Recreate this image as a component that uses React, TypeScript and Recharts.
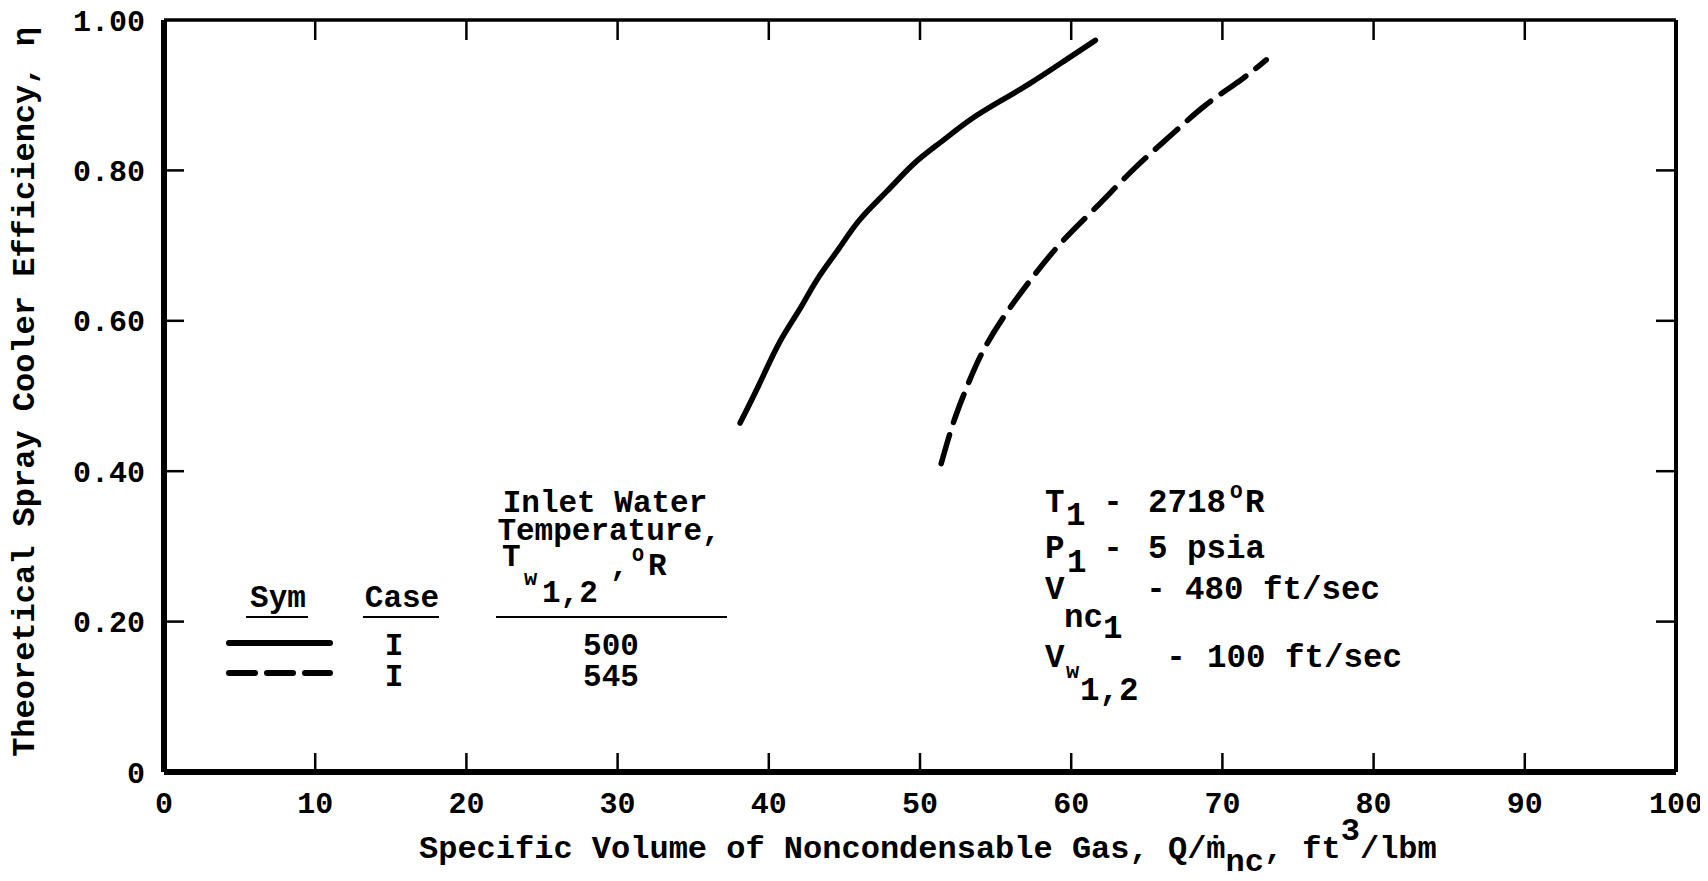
import React from "react";
import { LineChart, Line, XAxis, YAxis, Customized } from "recharts";

// ---- data ----
const xTicks = [0, 10, 20, 30, 40, 50, 60, 70, 80, 90, 100];
const xInnerTicks = [10, 20, 30, 40, 50, 60, 70, 80, 90];
const yTicks = [0, 0.2, 0.4, 0.6, 0.8, 1.0];
const yInnerTicks = [0.2, 0.4, 0.6, 0.8];

// Case I, inlet water temperature 500 °R (solid)
const case500X = [38.1, 39.4, 40.7, 42.0, 43.2, 44.6, 46.0, 47.8, 49.6, 51.4, 53.3, 55.3, 57.3, 59.5, 61.6];
const case500Y = [0.464, 0.517, 0.571, 0.614, 0.655, 0.695, 0.734, 0.772, 0.809, 0.838, 0.867, 0.892, 0.916, 0.945, 0.973];

// Case I, inlet water temperature 545 °R (dashed)
const case545X = [51.4, 52.2, 53.1, 54.2, 55.7, 57.3, 59.3, 61.7, 64.1, 66.5, 68.9, 71.2, 72.9];
const case545Y = [0.410, 0.464, 0.512, 0.561, 0.610, 0.654, 0.703, 0.752, 0.801, 0.845, 0.887, 0.920, 0.947];

const legendCase = ["I", "I"];
const legendTemp = ["500", "545"];

const solidData = case500X.map((x, i) => ({ x, y: case500Y[i] }));
const dashedData = case545X.map((x, i) => ({ x, y: case545Y[i] }));

const FONT = "'Liberation Mono', 'Courier New', monospace";
const DASH = "30 13";

const txt = (size: number) => ({
  fontFamily: FONT,
  fontWeight: 700,
  fontSize: size,
  fill: "#000",
});

const C = 32.5; // conditions font size

const Annotations = () => (
  <g transform="translate(-8,-8)">
    {/* axis titles */}
    <text transform="translate(34,392) rotate(-90)" textAnchor="middle" {...txt(32)}>
      Theoretical Spray Cooler Efficiency, η
    </text>
    <text x={419} y={858} {...txt(32)}>
      Specific Volume of Noncondensable Gas, Q/ṁ
      <tspan dy={13}>nc</tspan>
      <tspan dy={-13}>, ft</tspan>
      <tspan dy={-18}>3</tspan>
      <tspan dy={18}>/lbm</tspan>
    </text>

    {/* legend table */}
    <text x={605} y={512} textAnchor="middle" {...txt(31)}>Inlet Water</text>
    <text x={609} y={540} textAnchor="middle" {...txt(31)}>Temperature,</text>
    <text x={502} y={566} {...txt(31)}>T</text>
    <text x={524} y={585} {...txt(22)}>w</text>
    <text x={542} y={602} {...txt(31)}>1,2</text>
    <text x={610} y={575} {...txt(31)}>,</text>
    <text x={632} y={561} {...txt(20)}>O</text>
    <text x={648} y={575} {...txt(31)}>R</text>

    <text x={278} y={607} textAnchor="middle" {...txt(31)}>Sym</text>
    <text x={402} y={607} textAnchor="middle" {...txt(31)}>Case</text>
    <line x1={246} x2={308} y1={617} y2={617} stroke="#000" strokeWidth={2} />
    <line x1={363} x2={439} y1={617} y2={617} stroke="#000" strokeWidth={2} />
    <line x1={496} x2={727} y1={617} y2={617} stroke="#000" strokeWidth={2} />

    <line x1={229} x2={330} y1={643} y2={643} stroke="#000" strokeWidth={6} strokeLinecap="round" />
    <line x1={229} x2={330} y1={673} y2={673} stroke="#000" strokeWidth={6} strokeLinecap="round" strokeDasharray="26 12" />
    {legendCase.map((c, i) => (
      <text key={"c" + i} x={394} y={655 + i * 31} textAnchor="middle" {...txt(31)}>{c}</text>
    ))}
    {legendTemp.map((t, i) => (
      <text key={"t" + i} x={611} y={655 + i * 31} textAnchor="middle" {...txt(31)}>{t}</text>
    ))}

    {/* conditions block */}
    <text x={1045} y={512} {...txt(C)}>T</text>
    <text x={1066} y={525} {...txt(C)}>1</text>
    <text x={1113} y={512} textAnchor="middle" {...txt(C)}>-</text>
    <text x={1148} y={512} {...txt(C)}>2718</text>
    <text x={1230} y={498} {...txt(21)}>O</text>
    <text x={1245} y={512} {...txt(C)}>R</text>

    <text x={1045} y={558} {...txt(C)}>P</text>
    <text x={1067} y={572} {...txt(C)}>1</text>
    <text x={1113} y={558} textAnchor="middle" {...txt(C)}>-</text>
    <text x={1148} y={558} {...txt(C)}>5 psia</text>

    <text x={1045} y={599} {...txt(C)}>V</text>
    <text x={1064} y={627} {...txt(C)}>nc</text>
    <text x={1103} y={638} {...txt(C)}>1</text>
    <text x={1156} y={599} textAnchor="middle" {...txt(C)}>-</text>
    <text x={1185} y={599} {...txt(C)}>480 ft/sec</text>

    <text x={1045} y={667} {...txt(C)}>V</text>
    <text x={1066} y={678} {...txt(22)}>w</text>
    <text x={1080} y={700} {...txt(C)}>1,2</text>
    <text x={1176} y={667} textAnchor="middle" {...txt(C)}>-</text>
    <text x={1207} y={667} {...txt(C)}>100 ft/sec</text>
  </g>
);

const axisCommonX = {
  type: "number" as const,
  dataKey: "x",
  domain: [0, 100],
  allowDataOverflow: true,
};
const axisCommonY = {
  type: "number" as const,
  domain: [0, 1],
  allowDataOverflow: true,
};
const tickStroke = { stroke: "#000", strokeWidth: 2.5 };
const noLabel = () => "";
const hiddenTick = { fill: "none", fontSize: 1 };

export default function App() {
  return (
    <div style={{ width: 1700, height: 873, background: "#fff" }}>
      <LineChart
        width={1700}
        height={873}
        margin={{ top: 12, right: 32, bottom: 59, left: 76 }}
      >
        {/* inward tick marks + frame (mirror axes) */}
        <XAxis
          {...axisCommonX}
          xAxisId="bt"
          orientation="bottom"
          mirror
          height={1}
          ticks={xInnerTicks}
          interval={0}
          tick={hiddenTick}
          tickFormatter={noLabel}
          tickSize={19}
          tickLine={tickStroke}
          axisLine={{ stroke: "#000", strokeWidth: 6 }}
        />
        <XAxis
          {...axisCommonX}
          xAxisId="b"
          orientation="bottom"
          height={50}
          ticks={xTicks}
          interval={0}
          tickLine={false}
          axisLine={false}
          tickSize={0}
          tickMargin={20}
          tick={{ fill: "#000", fontSize: 30, fontFamily: FONT, fontWeight: 700 }}
        />
        <XAxis
          {...axisCommonX}
          xAxisId="t"
          orientation="top"
          mirror
          height={1}
          ticks={xInnerTicks}
          interval={0}
          tick={hiddenTick}
          tickFormatter={noLabel}
          tickSize={20}
          tickLine={tickStroke}
          axisLine={{ stroke: "#000", strokeWidth: 3.5 }}
        />
        <YAxis
          {...axisCommonY}
          yAxisId="lt"
          orientation="left"
          mirror
          width={1}
          ticks={yInnerTicks}
          interval={0}
          tick={hiddenTick}
          tickFormatter={noLabel}
          tickSize={20}
          tickLine={tickStroke}
          axisLine={{ stroke: "#000", strokeWidth: 6 }}
        />
        <YAxis
          {...axisCommonY}
          yAxisId="l"
          orientation="left"
          width={80}
          ticks={yTicks}
          interval={0}
          tickLine={false}
          axisLine={false}
          tickSize={0}
          tickMargin={19}
          tickFormatter={(v: number) => (v === 0 ? "0" : v.toFixed(2))}
          tick={{ fill: "#000", fontSize: 30, fontFamily: FONT, fontWeight: 700 }}
        />
        <YAxis
          {...axisCommonY}
          yAxisId="r"
          orientation="right"
          mirror
          width={1}
          ticks={yInnerTicks}
          interval={0}
          tick={hiddenTick}
          tickFormatter={noLabel}
          tickSize={20}
          tickLine={tickStroke}
          axisLine={{ stroke: "#000", strokeWidth: 4 }}
        />
        <Line
          xAxisId="b"
          yAxisId="l"
          data={solidData}
          dataKey="y"
          type="natural"
          stroke="#000"
          strokeWidth={5.5}
          strokeLinecap="round"
          dot={false}
          activeDot={false}
          isAnimationActive={false}
        />
        <Line
          xAxisId="b"
          yAxisId="l"
          data={dashedData}
          dataKey="y"
          type="natural"
          stroke="#000"
          strokeWidth={5.5}
          strokeLinecap="round"
          strokeDasharray={DASH}
          dot={false}
          activeDot={false}
          isAnimationActive={false}
        />
        <Customized component={Annotations} />
      </LineChart>
    </div>
  );
}
